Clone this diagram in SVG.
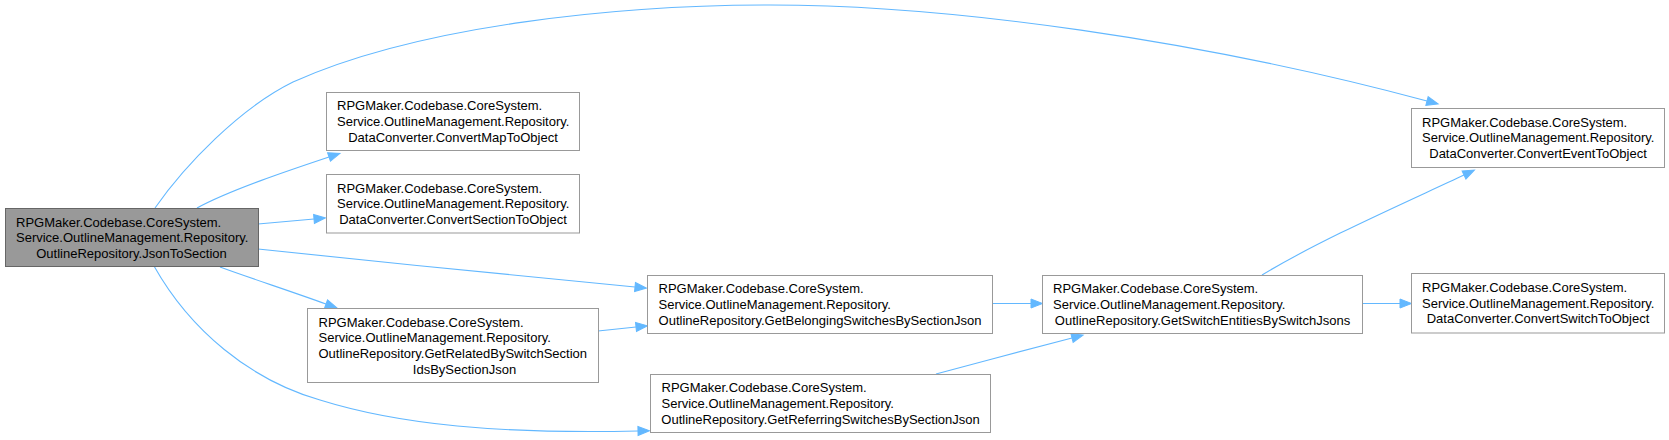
<svg xmlns="http://www.w3.org/2000/svg" width="1669" height="440" viewBox="0 0 1669 440">
<style>
.box{fill:#ffffff;stroke:#999999;stroke-width:1}
.root{fill:#999999;stroke:#666666;stroke-width:1}
text{font-family:"Liberation Sans",Arial,sans-serif;font-size:13px;fill:#000000}
.edge{fill:none;stroke:#63b8ff;stroke-width:1.1}
</style>
<defs>
<marker id="ah" markerUnits="userSpaceOnUse" markerWidth="14" markerHeight="12" refX="0" refY="5" orient="auto" overflow="visible">
<path d="M0,0.5 L11.5,5 L0,9.5 z" fill="#63b8ff" stroke="#63b8ff" stroke-width="1"/>
</marker>
</defs>
<rect width="1669" height="440" fill="#ffffff"/>
<g id="edges">
<path class="edge" marker-end="url(#ah)" d="M155,208 C185,165 240,108 293,82 C420,25 620,5 770,5 C950,5 1200,40 1427,101"/>
<path class="edge" marker-end="url(#ah)" d="M197,208 C230,190 290,170 329,157"/>
<path class="edge" marker-end="url(#ah)" d="M258,224 L314,219"/>
<path class="edge" marker-end="url(#ah)" d="M258,249 C380,262 520,276 635,287"/>
<path class="edge" marker-end="url(#ah)" d="M220,267 C250,278 290,291 326,304"/>
<path class="edge" marker-end="url(#ah)" d="M154,266 C190,330 250,380 320,400 C400,425 500,434 638,431"/>
<path class="edge" marker-end="url(#ah)" d="M598,331 L636,327"/>
<path class="edge" marker-end="url(#ah)" d="M993,303.5 L1031,303.5"/>
<path class="edge" marker-end="url(#ah)" d="M936,374 C980,362 1030,349 1072,338"/>
<path class="edge" marker-end="url(#ah)" d="M1262,275 C1320,240 1400,205 1464,175"/>
<path class="edge" marker-end="url(#ah)" d="M1363,303.5 L1400,303.5"/>
</g>
<g id="n_root">
<rect class="root" x="5.5" y="208.5" width="253" height="58"/>
<text x="16" y="226.5">RPGMaker.Codebase.CoreSystem.</text>
<text x="16" y="242.2">Service.OutlineManagement.Repository.</text>
<text x="131.5" y="257.9" text-anchor="middle">OutlineRepository.JsonToSection</text>
</g>
<g id="n_map">
<rect class="box" x="326.5" y="92.5" width="253" height="58"/>
<text x="337" y="110.3">RPGMaker.Codebase.CoreSystem.</text>
<text x="337" y="126">Service.OutlineManagement.Repository.</text>
<text x="453" y="141.7" text-anchor="middle">DataConverter.ConvertMapToObject</text>
</g>
<g id="n_section">
<rect class="box" x="326.5" y="174.5" width="253" height="58.5"/>
<text x="337" y="192.5">RPGMaker.Codebase.CoreSystem.</text>
<text x="337" y="208.2">Service.OutlineManagement.Repository.</text>
<text x="453" y="223.9" text-anchor="middle">DataConverter.ConvertSectionToObject</text>
</g>
<g id="n_related">
<rect class="box" x="307.5" y="308.5" width="291" height="74"/>
<text x="318.5" y="326.7">RPGMaker.Codebase.CoreSystem.</text>
<text x="318.5" y="342.4">Service.OutlineManagement.Repository.</text>
<text x="318.5" y="358.1">OutlineRepository.GetRelatedBySwitchSection</text>
<text x="464.5" y="373.8" text-anchor="middle">IdsBySectionJson</text>
</g>
<g id="n_belonging">
<rect class="box" x="647.5" y="275.5" width="345" height="58"/>
<text x="658.5" y="293.3">RPGMaker.Codebase.CoreSystem.</text>
<text x="658.5" y="309">Service.OutlineManagement.Repository.</text>
<text x="820" y="324.7" text-anchor="middle">OutlineRepository.GetBelongingSwitchesBySectionJson</text>
</g>
<g id="n_referring">
<rect class="box" x="650.5" y="374.5" width="340" height="58"/>
<text x="661.5" y="392.3">RPGMaker.Codebase.CoreSystem.</text>
<text x="661.5" y="408">Service.OutlineManagement.Repository.</text>
<text x="820.5" y="423.7" text-anchor="middle">OutlineRepository.GetReferringSwitchesBySectionJson</text>
</g>
<g id="n_entities">
<rect class="box" x="1042.5" y="275.5" width="320" height="58"/>
<text x="1053" y="293.3">RPGMaker.Codebase.CoreSystem.</text>
<text x="1053" y="309">Service.OutlineManagement.Repository.</text>
<text x="1202.5" y="324.7" text-anchor="middle">OutlineRepository.GetSwitchEntitiesBySwitchJsons</text>
</g>
<g id="n_event">
<rect class="box" x="1411.5" y="108.5" width="253" height="59"/>
<text x="1422" y="126.5">RPGMaker.Codebase.CoreSystem.</text>
<text x="1422" y="142.2">Service.OutlineManagement.Repository.</text>
<text x="1538" y="157.9" text-anchor="middle">DataConverter.ConvertEventToObject</text>
</g>
<g id="n_switch">
<rect class="box" x="1411.5" y="273.5" width="253" height="59.5"/>
<text x="1422" y="291.8">RPGMaker.Codebase.CoreSystem.</text>
<text x="1422" y="307.5">Service.OutlineManagement.Repository.</text>
<text x="1538" y="323.2" text-anchor="middle">DataConverter.ConvertSwitchToObject</text>
</g>
</svg>
